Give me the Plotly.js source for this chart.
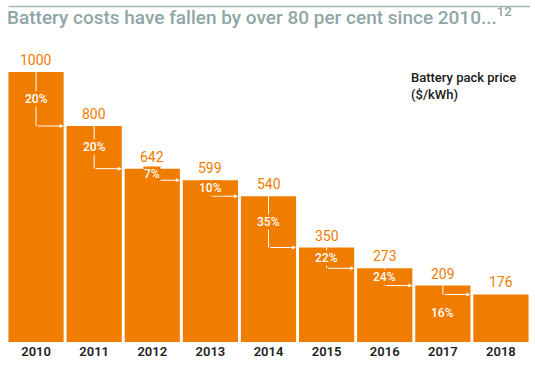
<!DOCTYPE html>
<html>
<head>
<meta charset="utf-8">
<script src="https://cdn.plot.ly/plotly-3.0.1.min.js"></script>
<style>html,body{margin:0;padding:0;background:#fff}#chart{width:535px;height:372px}</style>
</head>
<body>
<div id="chart"></div>
<script>
const years = ['2010','2011','2012','2013','2014','2015','2016','2017','2018'];
const prices = [1000, 800, 642, 599, 540, 350, 273, 209, 176];
const priceLabels = ['1000','800','642','599','540','350','273','209','176'];
const pctLabels = ['20%','20%','7%','10%','35%','22%','24%','16%'];
const pctBelow = [false,false,false,false,false,false,false,true];

const ORANGE = '#F07D00';
const halfW = 0.475;

const shapes = [];
const annotations = [];

// top rule (drawn as an arrowless annotation line in paper coordinates)
annotations.push({xref:'paper', yref:'paper', x:1, y:1.243, ax:-523, ay:0, text:'',
  showarrow:true, arrowhead:0, arrowwidth:1.5, arrowcolor:'#a3b7b7', standoff:0});

prices.forEach((v,i)=>{
  annotations.push({x:i, y:v, xref:'x', yref:'y', text:priceLabels[i], showarrow:false,
    yanchor:'bottom', yshift:2, font:{family:'Roboto, sans-serif', size:14, color:ORANGE}});
});

pctLabels.forEach((t,i)=>{
  const v0 = prices[i], v1 = prices[i+1];
  shapes.push({type:'line', xref:'x', yref:'y', x0:i, x1:i, y0:v0, y1:v1, line:{color:'#ffffff', width:1}});
  annotations.push({x:i+halfW, y:v1, ax:i, ay:v1, xref:'x', yref:'y', axref:'x', ayref:'y',
    text:'', showarrow:true, arrowhead:2, arrowsize:0.8, arrowwidth:1, arrowcolor:'#ffffff', standoff:0});
  if (pctBelow[i]) {
    annotations.push({x:i, y:v1, xref:'x', yref:'y', text:t, showarrow:false, yanchor:'top', yshift:-10,
      font:{family:'Roboto, sans-serif', size:12, color:'#ffffff', weight:500}});
  } else {
    annotations.push({x:i, y:(v0+v1)/2, xref:'x', yref:'y', text:t, showarrow:false, yanchor:'middle',
      bgcolor:ORANGE, borderpad:0,
      font:{family:'Roboto, sans-serif', size:12, color:'#ffffff', weight:500}});
  }
});

annotations.push({xref:'paper', yref:'paper', x:0.769, y:1.015, xanchor:'left', yanchor:'top', align:'left',
  text:'Battery pack price<br>($/kWh)', showarrow:false,
  font:{family:'Roboto, sans-serif', size:13, color:'#1a1a1a', weight:500}});

const data = [{
  type:'bar', x:years, y:prices, marker:{color:ORANGE}, hoverinfo:'skip', cliponaxis:false
}];

const layout = {
  width:535, height:372,
  margin:{l:7, r:5, t:72, b:30, pad:0},
  paper_bgcolor:'#ffffff', plot_bgcolor:'#ffffff',
  bargap:0.05,
  showlegend:false,
  title:{text:'Battery costs have fallen by over 80 per cent since 2010...<sup>12</sup>',
    xref:'container', yref:'container', x:7/535, xanchor:'left', y:1-17/372, yanchor:'middle',
    font:{family:'Roboto, sans-serif', size:19, color:'#8fa6a6', weight:500}},
  xaxis:{type:'category', range:[-0.5,8.5], showgrid:false, zeroline:false, showline:false, ticks:'',
    tickfont:{family:'Roboto, sans-serif', size:13, color:'#222222', weight:600}, fixedrange:true},
  yaxis:{range:[0,1000], visible:false, showgrid:false, zeroline:false, fixedrange:true},
  shapes:shapes, annotations:annotations
};

Plotly.newPlot('chart', data, layout, {displayModeBar:false, staticPlot:true});
</script>
</body>
</html>
